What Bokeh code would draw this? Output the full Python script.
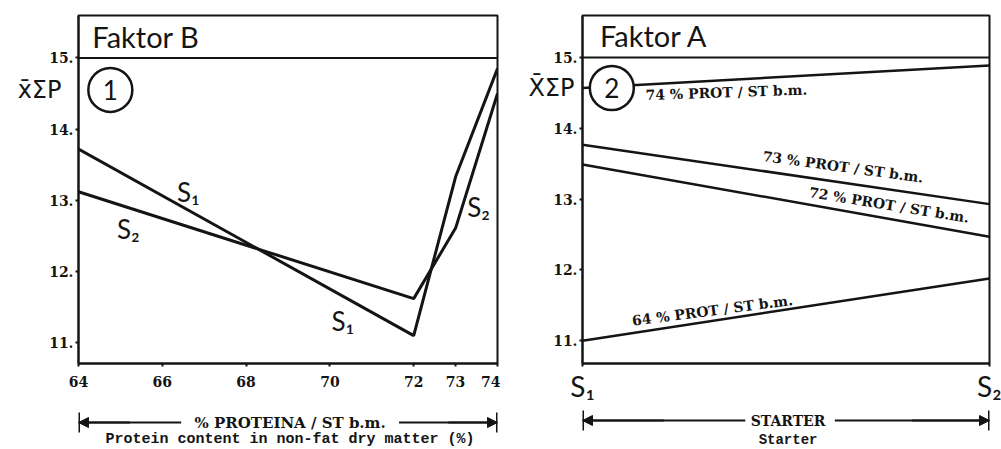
from bokeh.plotting import figure
from bokeh.models import (Range1d, FixedTicker, PrintfTickFormatter, Label, Arrow,
                          NormalHead, TeeHead, Span, LinearAxis)
from bokeh.layouts import row, column
from bokeh.embed import file_html
from bokeh.resources import INLINE

# ---------------- data ----------------
# Panel 1 (Faktor B): protein content in non-fat dry matter (%)
protein = [64, 72, 73, 74]
protein_ticks = [64, 66, 68, 70, 72, 73, 74]
s1_values = [13.72, 11.10, 13.33, 14.85]
s2_values = [13.12, 11.62, 12.61, 14.50]

# Panel 2 (Faktor A): starter S1 / S2
starters = [0, 1]
starter_labels = {0: "S₁", 1: "S₂"}
prot74 = [14.57, 14.89]
prot73 = [13.77, 12.93]
prot72 = [13.49, 12.47]
prot64 = [11.00, 11.88]
y_ticks = [11, 12, 13, 14, 15]

INK = "#141414"
SANS = "Lato"
SERIF = "DejaVu Serif"
MONO = "Liberation Mono"


def style(p):
    p.grid.visible = False
    p.outline_line_color = INK
    p.outline_line_width = 2
    p.background_fill_color = "white"
    p.border_fill_color = "white"
    for ax in (p.xaxis[0], p.yaxis[0]):
        ax.axis_line_color = INK
        ax.axis_line_width = 2
        ax.major_tick_line_color = INK
        ax.major_tick_line_width = 2
        ax.major_tick_out = 3
        ax.major_tick_in = 0
        ax.minor_tick_line_color = None
    p.yaxis[0].ticker = FixedTicker(ticks=y_ticks)
    p.yaxis[0].formatter = PrintfTickFormatter(format="%d.")
    p.yaxis[0].major_label_text_font = SERIF
    p.yaxis[0].major_label_text_font_style = "bold"
    p.yaxis[0].major_label_text_font_size = "14px"
    p.yaxis[0].major_label_text_color = INK
    p.yaxis[0].major_label_standoff = 2
    p.add_layout(Span(location=15, dimension="width", line_color=INK, line_width=2))


def ylabel_axis(p, text, at, standoff):
    ax = LinearAxis(ticker=FixedTicker(ticks=[at]), major_label_overrides={at: text},
                    axis_line_color=None, major_tick_line_color=None,
                    minor_tick_line_color=None, major_tick_out=0, major_tick_in=0,
                    major_label_text_font="DejaVu Sans", major_label_text_font_size="24px",
                    major_label_text_color=INK, major_label_standoff=standoff)
    p.add_layout(ax, "left")


def lab(p, x, y, text, font=SANS, size="26px", style_="normal", align="center",
        baseline="middle", angle=0.0):
    p.add_layout(Label(x=x, y=y, text=text, text_font=font, text_font_size=size,
                       text_font_style=style_, text_align=align, text_baseline=baseline,
                       text_color=INK, angle=angle))


def strip(x_range, width, left, right):
    s = figure(width=width, height=44, title=None, x_range=x_range,
               y_range=Range1d(0, 44), output_backend="svg", toolbar_location=None,
               x_axis_type=None, y_axis_type=None, min_border_left=left,
               min_border_right=right, min_border_top=0, min_border_bottom=0)
    s.grid.visible = False
    s.outline_line_color = None
    s.background_fill_color = "white"
    s.border_fill_color = "white"
    return s


def arrow_bar(p, x_left_end, x_text_l, x_text_r, x_right_end, y):
    for xs, xe in ((x_text_l, x_left_end), (x_text_r, x_right_end)):
        p.add_layout(Arrow(end=NormalHead(size=10, fill_color=INK, line_color=INK),
                           x_start=xs, y_start=y, x_end=xe, y_end=y,
                           line_color=INK, line_width=2))
        p.add_layout(Arrow(end=TeeHead(size=20, line_color=INK, line_width=3),
                           x_start=(xs + xe) / 2, y_start=y, x_end=xe, y_end=y,
                           line_color=INK, line_width=2))


# ---------------- panel 1 ----------------
p1 = figure(width=500, height=405, title=None, x_range=Range1d(64, 74),
            y_range=Range1d(10.709, 15.595), output_backend="svg", toolbar_location=None,
            min_border_left=78, min_border_right=3, min_border_top=15, min_border_bottom=37)
style(p1)
p1.xaxis[0].ticker = FixedTicker(ticks=protein_ticks)
p1.xaxis[0].major_label_text_font = SERIF
p1.xaxis[0].major_label_text_font_style = "bold"
p1.xaxis[0].major_label_text_font_size = "14px"
p1.xaxis[0].major_label_text_color = INK
p1.xaxis[0].major_label_standoff = 9
ylabel_axis(p1, "x̄ΣP", 14.55, -15)

p1.line(protein, s1_values, line_color=INK, line_width=3)
p1.line(protein, s2_values, line_color=INK, line_width=3)

lab(p1, 64.33, 15.30, "Faktor B", size="29px", align="left")
p1.scatter([64.76], [14.55], marker="circle", size=44, fill_color="white",
           line_color=INK, line_width=2.5)
lab(p1, 64.76, 14.55, "1", size="26px")
lab(p1, 66.62, 13.12, "S₁", size="26px")
lab(p1, 65.19, 12.60, "S₂", size="26px")
lab(p1, 70.31, 11.30, "S₁", size="26px")
lab(p1, 73.55, 12.90, "S₂", size="26px")

b1 = strip(p1.x_range, 500, 78, 3)
lab(b1, 69.05, 27, "% PROTEINA / ST b.m.", font=SERIF, size="15px", style_="bold")
lab(b1, 69.05, 10, "Protein content in non-fat dry matter (%)", font=MONO,
    size="15px", style_="bold")
arrow_bar(b1, 64, 66.45, 71.65, 74, 27)

# ---------------- panel 2 ----------------
p2 = figure(width=501, height=405, title=None, x_range=Range1d(0, 1),
            y_range=Range1d(10.678, 15.595), output_backend="svg", toolbar_location=None,
            min_border_left=82, min_border_right=12, min_border_top=12, min_border_bottom=42)
style(p2)
p2.xaxis[0].ticker = FixedTicker(ticks=starters)
p2.xaxis[0].major_label_overrides = starter_labels
p2.xaxis[0].major_label_text_font = SANS
p2.xaxis[0].major_label_text_font_size = "28px"
p2.xaxis[0].major_label_text_color = INK
p2.xaxis[0].major_label_standoff = 2
ylabel_axis(p2, "X̄ΣP", 14.57, -24)

for vals in (prot74, prot73, prot72, prot64):
    p2.line(starters, vals, line_color=INK, line_width=2.5)

lab(p2, 0.043, 15.31, "Faktor A", size="29px", align="left")
p2.scatter([0.072], [14.57], marker="circle", size=44, fill_color="white",
           line_color=INK, line_width=2.5)
lab(p2, 0.072, 14.57, "2", size="26px")

lab(p2, 0.155, 14.47, "74 % PROT / ST b.m.", font=SERIF, size="14px", style_="bold",
    align="left", angle=0.035)
lab(p2, 0.443, 13.61, "73 % PROT / ST b.m.", font=SERIF, size="14px", style_="bold",
    align="left", angle=-0.135)
lab(p2, 0.557, 13.10, "72 % PROT / ST b.m.", font=SERIF, size="14px", style_="bold",
    align="left", angle=-0.16)
lab(p2, 0.122, 11.28, "64 % PROT / ST b.m.", font=SERIF, size="14px", style_="bold",
    align="left", angle=0.13)

b2 = strip(p2.x_range, 501, 82, 12)
lab(b2, 0.505, 29, "STARTER", font=SERIF, size="14px", style_="bold")
lab(b2, 0.505, 10, "Starter", font=MONO, size="14px", style_="bold")
arrow_bar(b2, 0, 0.40, 0.62, 1, 29)

layout = column(row(p1, p2), row(b1, b2))
open("out.html", "w").write(file_html(layout, INLINE))
